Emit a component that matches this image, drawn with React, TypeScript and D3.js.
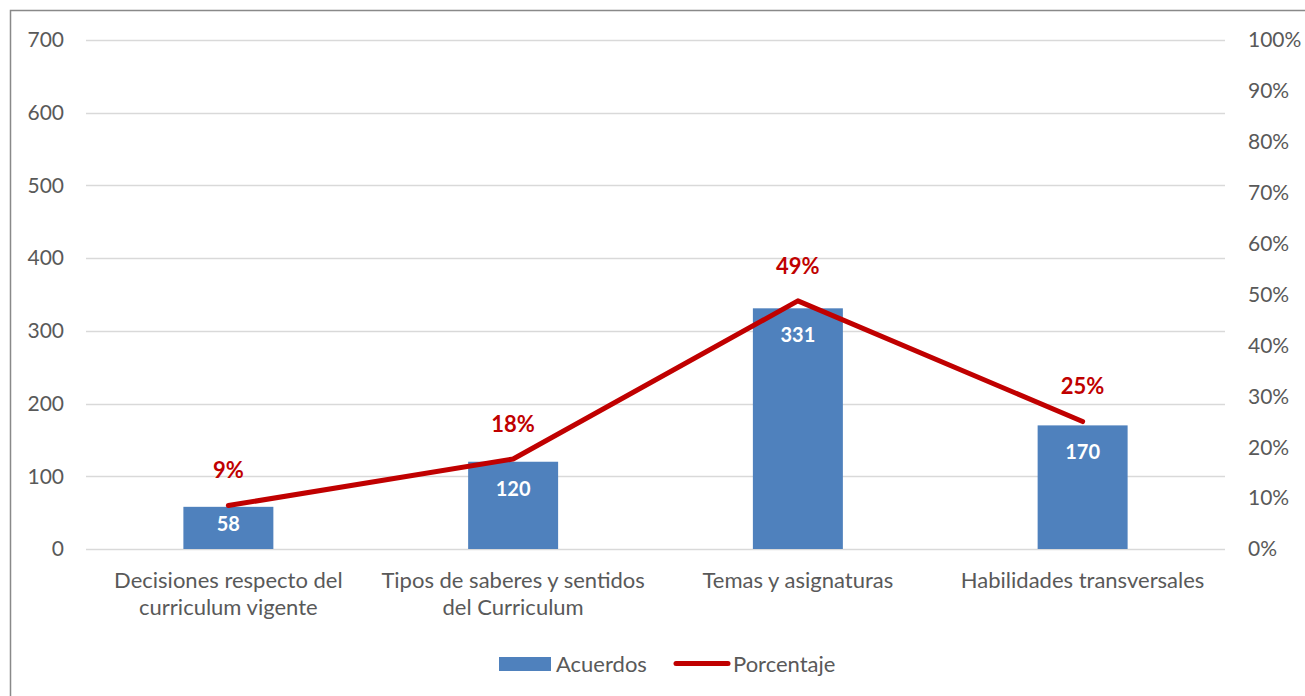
import { useRef, useEffect } from "react";
import * as d3 from "d3";

const categorias = [
  ["Decisiones respecto del", "curriculum vigente"],
  ["Tipos de saberes y sentidos", "del Curriculum"],
  ["Temas y asignaturas"],
  ["Habilidades transversales"],
];
const acuerdos = [58, 120, 331, 170];
const porcentaje = [0.0854, 0.1767, 0.4875, 0.2504];
const porcentajeLabels = ["9%", "18%", "49%", "25%"];
const leftTicks = [0, 100, 200, 300, 400, 500, 600, 700];
const rightTicks = [0, 0.1, 0.2, 0.3, 0.4, 0.5, 0.6, 0.7, 0.8, 0.9, 1];

const FONT = "Lato, 'Open Sans', sans-serif";
const GRAY = "#595959";
const BLUE = "#4F81BD";
const RED = "#C00000";

export default function App() {
  const root = useRef<SVGSVGElement>(null);
  const width = 1305;
  const height = 696;
  const left = 86, right = 1225, top = 40, bottom = 549;

  useEffect(() => {
    const svg = d3.select(root.current);
    svg.selectAll("*").remove();

    const x = d3.scaleBand<number>().domain(d3.range(acuerdos.length)).range([left, right]).paddingInner(0.684).paddingOuter(0.342);
    const y = d3.scaleLinear().domain([0, 700]).range([bottom, top]);
    const y2 = d3.scaleLinear().domain([0, 1]).range([bottom, top]);
    const step = (right - left) / acuerdos.length;
    const cx = (i: number) => left + step * (i + 0.5);

    // frame
    svg.append("rect").attr("x", 10.5).attr("y", 10.5).attr("width", 1400).attr("height", 800)
      .attr("fill", "white").attr("stroke", "#898989").attr("stroke-width", 1.5);

    // grid
    svg.append("g").selectAll("line").data(leftTicks).enter().append("line")
      .attr("x1", left).attr("x2", right)
      .attr("y1", d => Math.round(y(d)) + 0.5).attr("y2", d => Math.round(y(d)) + 0.5)
      .attr("stroke", "#d9d9d9").attr("stroke-width", 1.3);

    // left axis labels
    svg.append("g").selectAll("text").data(leftTicks).enter().append("text")
      .attr("x", 64).attr("y", d => y(d)).attr("dy", "0.35em")
      .attr("text-anchor", "end").attr("font-family", FONT).attr("font-size", 21).attr("fill", GRAY)
      .text(d => d);

    // right axis labels
    svg.append("g").selectAll("text").data(rightTicks).enter().append("text")
      .attr("x", 1248).attr("y", d => y2(d)).attr("dy", "0.35em")
      .attr("text-anchor", "start").attr("font-family", FONT).attr("font-size", 21).attr("fill", GRAY)
      .text(d => d3.format(".0%")(d));

    // bars
    svg.append("g").selectAll("rect").data(acuerdos).enter().append("rect")
      .attr("x", (_, i) => x(i)!).attr("width", x.bandwidth())
      .attr("y", d => y(d)).attr("height", d => bottom - y(d))
      .attr("fill", BLUE);

    svg.append("g").selectAll("text").data(acuerdos).enter().append("text")
      .attr("x", (_, i) => cx(i))
      .attr("y", d => y(d) + Math.min(27, (bottom - y(d)) * 0.4)).attr("dy", "0.35em")
      .attr("text-anchor", "middle").attr("font-family", FONT).attr("font-weight", "bold")
      .attr("font-size", 20).attr("fill", "white")
      .text(d => d);

    // line
    const line = d3.line<number>().x((_, i) => cx(i)).y(d => y2(d));
    svg.append("path").datum(porcentaje).attr("d", line)
      .attr("fill", "none").attr("stroke", RED).attr("stroke-width", 5)
      .attr("stroke-linecap", "round").attr("stroke-linejoin", "round");

    svg.append("g").selectAll("text").data(porcentaje).enter().append("text")
      .attr("x", (_, i) => cx(i)).attr("y", d => y2(d) - 35).attr("dy", "0.35em")
      .attr("text-anchor", "middle").attr("font-family", FONT).attr("font-weight", "bold")
      .attr("font-size", 22).attr("fill", RED)
      .text((_, i) => porcentajeLabels[i]);

    // category labels
    const cat = svg.append("g").selectAll("text").data(categorias).enter().append("text")
      .attr("x", (_, i) => cx(i)).attr("y", 580)
      .attr("text-anchor", "middle").attr("font-family", FONT).attr("font-size", 22).attr("fill", GRAY);
    cat.each(function (d) {
      const t = d3.select(this);
      d.forEach((s, j) => {
        t.append("tspan").attr("x", t.attr("x")).attr("dy", j === 0 ? "0.35em" : 27).text(s);
      });
    });

    // legend
    const lg = svg.append("g");
    lg.append("rect").attr("x", 499).attr("y", 657).attr("width", 52).attr("height", 14).attr("fill", BLUE);
    lg.append("text").attr("x", 556).attr("y", 664).attr("dy", "0.35em")
      .attr("font-family", FONT).attr("font-size", 22).attr("fill", GRAY).text("Acuerdos");
    lg.append("line").attr("x1", 676).attr("x2", 728).attr("y1", 663.5).attr("y2", 663.5)
      .attr("stroke", RED).attr("stroke-width", 5).attr("stroke-linecap", "round");
    lg.append("text").attr("x", 733).attr("y", 664).attr("dy", "0.35em")
      .attr("font-family", FONT).attr("font-size", 22).attr("fill", GRAY).text("Porcentaje");
  }, []);

  return (
    <svg ref={root} width={width} height={height}
      style={{ position: "absolute", left: 0, top: 0, display: "block" }} />
  );
}
